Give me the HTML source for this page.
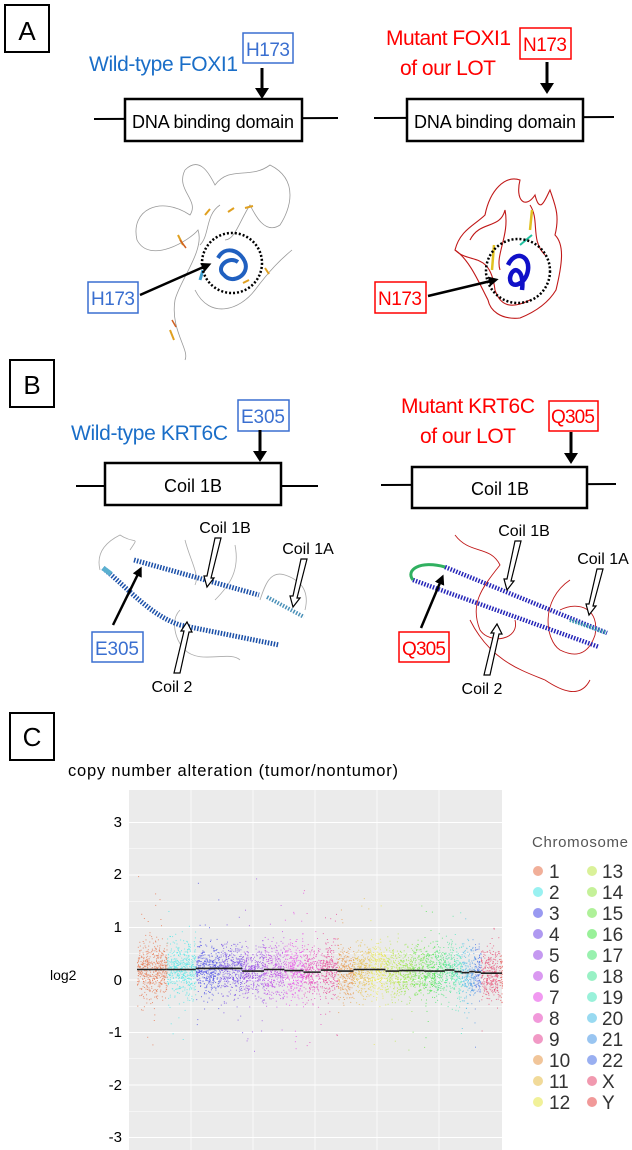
<!DOCTYPE html>
<html><head><meta charset="utf-8"><style>
body{margin:0;background:#fff}
svg{display:block}
text{font-family:"Liberation Sans",sans-serif}
</style></head><body>
<svg id="s" width="632" height="1150" viewBox="0 0 632 1150" xmlns="http://www.w3.org/2000/svg">
<defs>
<marker id="ah" markerWidth="4" markerHeight="4" refX="2.5" refY="2" orient="auto"><path d="M0,0 L4,2 L0,4 z" fill="#000"/></marker>
</defs>
<!-- Panel A -->
<rect x="5" y="5" width="44" height="47" fill="none" stroke="#000" stroke-width="2"/>
<text x="27" y="40" font-size="26" text-anchor="middle">A</text>
<text x="89" y="71" font-size="21" fill="#1a6ec8" textLength="149">Wild-type FOXI1</text>
<rect x="243" y="33" width="50" height="30" fill="none" stroke="#3a6fd0" stroke-width="1.5"/>
<text x="268" y="56" font-size="19" fill="#3a6fd0" text-anchor="middle" textLength="44">H173</text>
<line x1="262" y1="68" x2="262" y2="90" stroke="#000" stroke-width="3"/>
<path d="M255,88 L269,88 L262,99 z"/>
<line x1="94" y1="119" x2="338" y2="118" stroke="#000" stroke-width="2"/>
<rect x="125" y="99" width="177" height="42" fill="#fff" stroke="#000" stroke-width="2.5"/>
<text x="213" y="128" font-size="18" text-anchor="middle" textLength="162">DNA binding domain</text>
<text x="386" y="45" font-size="21" fill="#f00" textLength="125">Mutant FOXI1</text>
<text x="400" y="75" font-size="21" fill="#f00" textLength="96">of our LOT</text>
<rect x="520" y="28" width="51" height="31" fill="none" stroke="#f00" stroke-width="1.5"/>
<text x="545" y="51" font-size="19" fill="#f00" text-anchor="middle" textLength="44">N173</text>
<line x1="547" y1="62" x2="547" y2="85" stroke="#000" stroke-width="3"/>
<path d="M540,83 L554,83 L547,94 z"/>
<line x1="374" y1="118" x2="614" y2="117" stroke="#000" stroke-width="2"/>
<rect x="407" y="99" width="176" height="42" fill="#fff" stroke="#000" stroke-width="2.5"/>
<text x="495" y="128" font-size="18" text-anchor="middle" textLength="162">DNA binding domain</text>
<!-- WT FOXI1 structure -->
<g fill="none" stroke="#999" stroke-width="0.8">
<path d="M185,170 C175,190 200,200 190,215 C160,195 130,210 137,240 C150,265 190,240 198,230 C205,250 180,280 175,300 C170,330 190,350 185,360"/>
<path d="M185,170 C200,155 210,175 215,185 C230,165 250,180 270,165 C300,180 290,210 280,225 C265,235 255,215 250,205 C240,220 235,240 225,240"/>
<path d="M195,290 C210,320 240,310 255,290 C270,270 280,260 292,250"/>
<path d="M220,205 C205,215 210,235 200,245"/>
</g>
<g fill="none" stroke="#e0a020" stroke-width="2"><path d="M205,215 l5,-6 M228,212 l6,-4 M245,208 l8,-2 M178,235 l5,10 M265,268 l4,6 M170,330 l4,10 M243,283 l6,-3"/></g>
<g fill="none" stroke="#d06020" stroke-width="1.5"><path d="M180,240 l6,8 M172,320 l4,7"/></g>
<path d="M218,258 C225,245 240,250 245,262 C250,275 232,285 224,275 C215,268 228,255 238,262" fill="none" stroke="#2060c0" stroke-width="4"/>
<path d="M200,280 l3,-10" stroke="#40a0d0" stroke-width="3"/>
<circle cx="232" cy="263" r="30" fill="none" stroke="#000" stroke-width="2.5" stroke-dasharray="2,2"/>
<rect x="88" y="282" width="50" height="31" fill="#fff" stroke="#3a6fd0" stroke-width="1.5"/>
<text x="113" y="305" font-size="19" fill="#3a6fd0" text-anchor="middle" textLength="44">H173</text>
<line x1="140" y1="295" x2="208" y2="265" stroke="#000" stroke-width="2.5" marker-end="url(#ah)"/>
<!-- Mutant FOXI1 structure -->
<g fill="none" stroke="#c01818" stroke-width="1.1">
<path d="M485,215 C490,190 505,175 520,180 C515,200 525,210 535,195 C540,215 545,200 550,190 C555,205 560,215 555,235 C565,245 562,265 556,290 C550,300 540,310 520,318 C500,320 490,310 488,300 C480,285 470,260 455,250 C460,230 475,225 485,215z"/>
<path d="M470,240 C480,220 500,230 505,210 C510,235 495,255 500,270 M530,205 C540,220 530,240 545,255 M455,250 C470,265 490,250 495,290 C500,305 510,310 530,300"/>
</g>
<path d="M492,270 l2,-25 M530,230 l2,-20" stroke="#e0c020" stroke-width="2.5"/>
<path d="M520,245 l12,-10" stroke="#20c0a0" stroke-width="2"/>
<path d="M508,265 C515,250 530,255 528,270 C526,285 510,290 510,278 C512,265 525,268 522,290" fill="none" stroke="#1010c8" stroke-width="4.5"/>
<circle cx="518" cy="271" r="32" fill="none" stroke="#000" stroke-width="2.5" stroke-dasharray="2,2"/>
<rect x="375" y="282" width="51" height="31" fill="#fff" stroke="#f00" stroke-width="1.5"/>
<text x="400" y="305" font-size="19" fill="#f00" text-anchor="middle" textLength="44">N173</text>
<line x1="428" y1="296" x2="495" y2="280" stroke="#000" stroke-width="2.5" marker-end="url(#ah)"/>

<!-- Panel B -->
<rect x="10" y="360" width="44" height="47" fill="none" stroke="#000" stroke-width="2"/>
<text x="32" y="394" font-size="26" text-anchor="middle">B</text>
<text x="71" y="440" font-size="21" fill="#1a6ec8" textLength="157">Wild-type KRT6C</text>
<rect x="238" y="400" width="51" height="31" fill="none" stroke="#3a6fd0" stroke-width="1.5"/>
<text x="263" y="423" font-size="19" fill="#3a6fd0" text-anchor="middle" textLength="44">E305</text>
<line x1="260" y1="430" x2="260" y2="453" stroke="#000" stroke-width="3"/>
<path d="M253,451 L267,451 L260,462 z"/>
<line x1="76" y1="486" x2="318" y2="486" stroke="#000" stroke-width="2"/>
<rect x="105" y="463" width="176" height="42" fill="#fff" stroke="#000" stroke-width="2.5"/>
<text x="193" y="492" font-size="18" text-anchor="middle">Coil 1B</text>
<text x="401" y="413" font-size="21" fill="#f00" textLength="134">Mutant KRT6C</text>
<text x="420" y="443" font-size="21" fill="#f00" textLength="96">of our LOT</text>
<rect x="549" y="401" width="49" height="30" fill="none" stroke="#f00" stroke-width="1.5"/>
<text x="573" y="423" font-size="19" fill="#f00" text-anchor="middle" textLength="44">Q305</text>
<line x1="571" y1="432" x2="571" y2="455" stroke="#000" stroke-width="3"/>
<path d="M564,453 L578,453 L571,464 z"/>
<line x1="381" y1="485" x2="616" y2="484" stroke="#000" stroke-width="2"/>
<rect x="412" y="467" width="175" height="41" fill="#fff" stroke="#000" stroke-width="2.5"/>
<text x="500" y="495" font-size="18" text-anchor="middle">Coil 1B</text>
<!-- WT KRT6C structure -->
<g fill="none" stroke="#aaa" stroke-width="0.8">
<path d="M100,570 C95,550 110,540 120,535 C135,545 140,535 130,550"/>
<path d="M185,540 C190,560 200,575 195,585 M215,600 C230,585 240,570 235,545"/>
<path d="M260,600 C265,585 270,570 285,575 C300,580 310,590 305,610"/>
<path d="M180,610 C170,620 175,640 185,650 C200,665 230,650 240,660"/>
</g>
<path d="M134,560 L259,595" stroke="#1a4fa8" stroke-width="5" stroke-dasharray="1.5,1.5"/>
<path d="M103,568 C130,590 150,615 180,625 L279,645" stroke="#1a4fa8" stroke-width="5" stroke-dasharray="1.5,1.5" fill="none"/>
<path d="M267,597 L304,617" stroke="#4a90b8" stroke-width="4" stroke-dasharray="1.5,1.5"/>
<path d="M103,568 l8,6" stroke="#5ab0d0" stroke-width="5"/>
<text x="225" y="533" font-size="16" text-anchor="middle">Coil 1B</text>
<path d="M215,538 L221,538 L211,578 L214,578 L207,587 L204,576 L207,576 z" fill="#fff" stroke="#000" stroke-width="1.2"/>
<text x="308" y="554" font-size="16" text-anchor="middle">Coil 1A</text>
<path d="M301,559 L307,559 L297,598 L300,598 L293,607 L290,596 L293,596 z" fill="#fff" stroke="#000" stroke-width="1.2"/>
<text x="172" y="692" font-size="16" text-anchor="middle">Coil 2</text>
<path d="M174,673 L180,673 L189,632 L192,632 L187,622 L181,631 L184,631 z" fill="#fff" stroke="#000" stroke-width="1.2"/>
<rect x="92" y="632" width="51" height="30" fill="#fff" stroke="#3a6fd0" stroke-width="1.5"/>
<text x="117" y="655" font-size="19" fill="#3a6fd0" text-anchor="middle" textLength="44">E305</text>
<line x1="113" y1="625" x2="140" y2="570" stroke="#000" stroke-width="2.5" marker-end="url(#ah)"/>
<!-- Mutant KRT6C structure -->
<g fill="none" stroke="#c01818" stroke-width="0.9">
<path d="M455,535 C470,555 490,545 500,565 C480,590 470,605 480,630 C490,645 520,640 515,620"/>
<path d="M560,610 C580,600 600,610 595,635 C590,650 580,660 560,650 C545,640 540,600 570,580"/>
<path d="M470,620 C490,660 520,670 545,680 C560,690 580,700 590,680"/>
</g>
<path d="M445,567 L607,633" stroke="#2424b8" stroke-width="4.5" stroke-dasharray="1.5,1.5"/>
<path d="M413,580 L599,647" stroke="#2424b8" stroke-width="4.5" stroke-dasharray="1.5,1.5"/>
<path d="M413,580 C405,570 420,560 445,567" stroke="#30b060" stroke-width="3" fill="none"/>
<path d="M570,620 L607,633" stroke="#40a0b0" stroke-width="4" stroke-dasharray="1.5,1.5"/>
<text x="524" y="536" font-size="16" text-anchor="middle">Coil 1B</text>
<path d="M515,541 L521,541 L511,581 L514,581 L507,590 L504,579 L507,579 z" fill="#fff" stroke="#000" stroke-width="1.2"/>
<text x="603" y="564" font-size="16" text-anchor="middle">Coil 1A</text>
<path d="M597,569 L603,569 L593,606 L596,606 L589,615 L586,604 L589,604 z" fill="#fff" stroke="#000" stroke-width="1.2"/>
<text x="482" y="694" font-size="16" text-anchor="middle">Coil 2</text>
<path d="M484,675 L490,675 L499,634 L502,634 L497,624 L491,633 L494,633 z" fill="#fff" stroke="#000" stroke-width="1.2"/>
<rect x="399" y="632" width="50" height="30" fill="#fff" stroke="#f00" stroke-width="1.5"/>
<text x="424" y="655" font-size="19" fill="#f00" text-anchor="middle" textLength="44">Q305</text>
<line x1="421" y1="628" x2="442" y2="578" stroke="#000" stroke-width="2.5" marker-end="url(#ah)"/>

<!-- Panel C -->
<rect x="10" y="713" width="44" height="47" fill="none" stroke="#000" stroke-width="2"/>
<text x="32" y="746" font-size="26" text-anchor="middle">C</text>
<text x="68" y="776" font-size="16.5" textLength="330">copy number alteration (tumor/nontumor)</text>
<rect x="129" y="790" width="373" height="360" fill="#ebebeb"/>
<g id="grid" stroke="#fff" stroke-width="1"></g>
<g id="pts"></g>
<g font-size="15" text-anchor="end">
<text x="122" y="827">3</text><text x="122" y="879">2</text><text x="122" y="932">1</text><text x="122" y="985">0</text><text x="122" y="1037">-1</text><text x="122" y="1090">-2</text><text x="122" y="1142">-3</text>
</g>
<text x="50" y="980" font-size="14">log2</text>
<text x="532" y="847" font-size="15" fill="#555" textLength="96">Chromosome</text>
<g id="leg" font-size="19"></g>
</svg>
<script>
(function(){
var NS="http://www.w3.org/2000/svg";
function el(p,t,a,tx){var e=document.createElementNS(NS,t);for(var k in a)e.setAttribute(k,a[k]);if(tx)e.textContent=tx;document.getElementById(p).appendChild(e);return e;}
function Y(v){return 980-v*52.5;}
for(var v=-3;v<=3;v++){el('grid','line',{x1:129,x2:502,y1:Y(v),y2:Y(v)});}
for(var v=-2.5;v<=3;v+=1){el('grid','line',{x1:129,x2:502,y1:Y(v),y2:Y(v),'stroke-width':0.5});}
[191,253,315,377,439].forEach(function(x){el('grid','line',{x1:x,x2:x,y1:790,y2:1150,'stroke-width':0.7});});
var lab=['1','2','3','4','5','6','7','8','9','10','11','12','13','14','15','16','17','18','19','20','21','22','X','Y'];
var sorted=lab.slice().sort();
function col(i){var idx=sorted.indexOf(lab[i]);var h=15+idx*360/24;return 'hsl('+h+',75%,62%)';}
var sizes=[249,242,198,190,181,171,159,145,138,134,135,133,114,107,102,90,83,80,59,64,47,51,156,20];
var tot=sizes.reduce(function(a,b){return a+b;}),x0=137,W=365,seed=7;
function r(){seed=(seed*16807)%2147483647;return seed/2147483647;}
function g(){return (r()+r()+r()+r()-2)*0.6;}
var means=[.2,.2,.22,.22,.17,.2,.18,.15,.19,.17,.2,.2,.17,.18,.18,.17,.17,.19,.16,.14,.16,.15,.13,.13];
var x=x0;
for(var i=0;i<24;i++){var w=sizes[i]/tot*W,c=col(i),m=means[i];
 var cnt=Math.round(w*16);
 for(var k=0;k<cnt;k++){var v=m+g()*(r()<0.08?1.8:0.7);
  el('pts','rect',{x:(x+r()*w).toFixed(1),y:Y(v).toFixed(1),width:1,height:1,fill:c,opacity:0.8});}
 el('pts','line',{x1:x,x2:x+w,y1:Y(m),y2:Y(m),stroke:'#222','stroke-width':1.6});
 x+=w;}
for(var i=0;i<24;i++){var cx=i<12?538:592,tx=i<12?549:602,y=871+(i%12)*21;
 el('leg','circle',{cx:cx,cy:y,r:5,fill:col(i),opacity:0.6});
 el('leg','text',{x:tx,y:y+7,fill:'#333'},lab[i]);}
})();
</script>
</body></html>
